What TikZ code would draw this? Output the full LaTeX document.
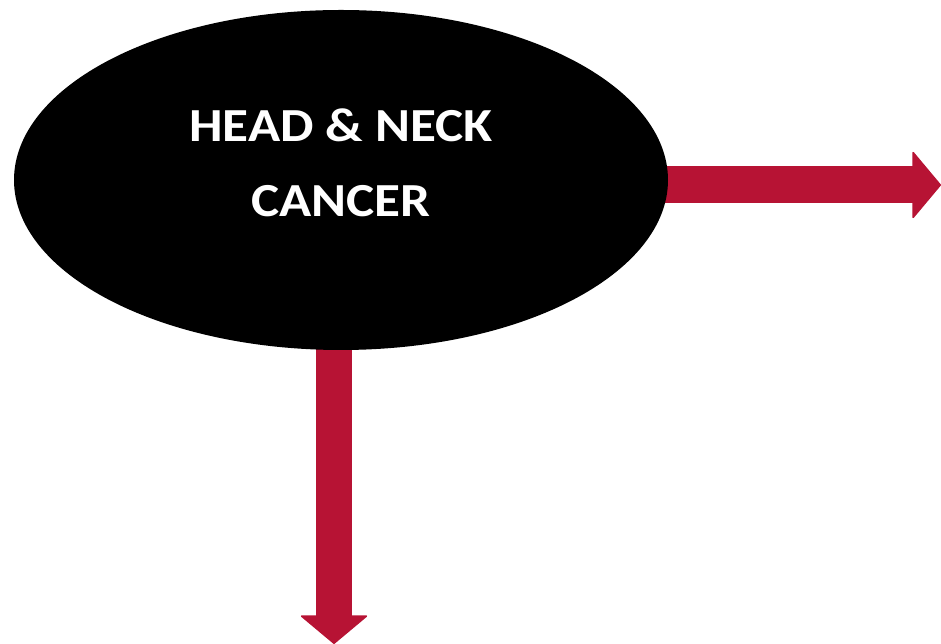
\documentclass[tikz,border=0pt]{standalone}
\usepackage{fontspec}
\newfontfamily\carlito{Carlito}
\usepackage{tikz}
\usetikzlibrary{arrows.meta,positioning,shapes.geometric,backgrounds}
\definecolor{HnRed}{HTML}{B71334}
\definecolor{HnBlack}{HTML}{000000}
\tikzset{
  bigarrow/.style={draw=HnRed,line width=0.74cm,
    -{Triangle[width=1.38cm,length=0.58cm,line width=1pt,round]}},
}

\begin{document}
\begin{tikzpicture}[x=0.02cm,y=-0.02cm]
\useasboundingbox (0,0) rectangle (941,644);
\node[ellipse,fill=HnBlack,minimum width=654*0.02cm,minimum height=340*0.02cm,inner sep=0pt] (ell) at (341,180) {};
\node[text=white,align=center,font=\carlito\bfseries\fontsize{27}{42.5}\selectfont,xscale=1.12,transform shape] (title) at (341,163) {HEAD \& NECK\\CANCER};
\coordinate (rtip) at (941,185);
\coordinate (dtip) at (334,644);
\begin{pgfonlayer}{background}
\draw[bigarrow] (ell.center |- rtip) -- (rtip);
\draw[bigarrow] (ell.center -| dtip) -- (dtip);
\end{pgfonlayer}
\end{tikzpicture}
\end{document}
